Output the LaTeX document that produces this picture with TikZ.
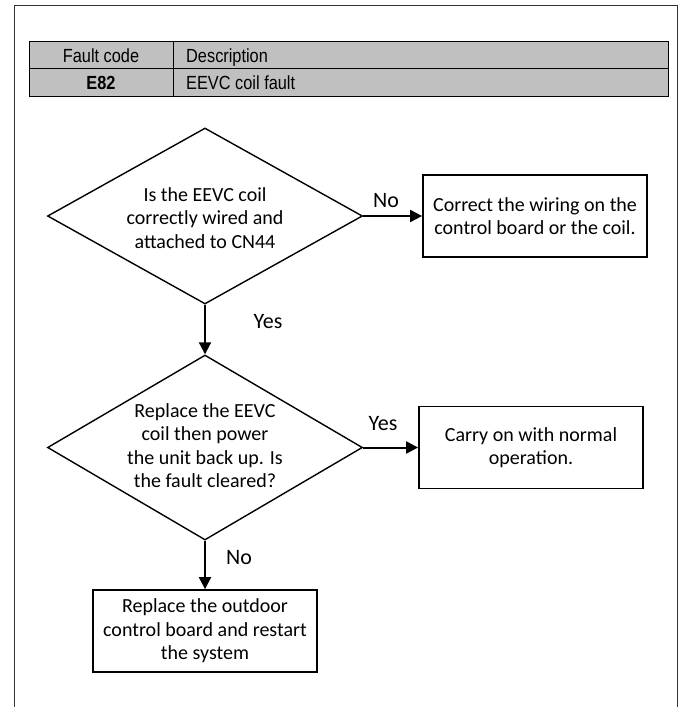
\documentclass[tikz,border=0pt]{standalone}
\usepackage{fontspec}
\setmainfont{Carlito}
\newfontfamily\tabfont[FakeStretch=0.86]{Liberation Sans}
\usetikzlibrary{shapes.geometric,arrows.meta}
\definecolor{tabgray}{RGB}{192,192,192}
\tikzset{
  frameline/.style={draw=black!80,line width=1.5pt},
  cell/.style={draw=black,line width=1pt,fill=tabgray},
  dia/.style={draw=black,line width=1.4pt,diamond,minimum width=315pt,inner sep=0pt},
  dtext/.style={align=center,font=\fontsize{20}{23.4}\selectfont},
  stepbox/.style={draw=black,line width=1.8pt,align=center,font=\fontsize{20}{23.4}\selectfont,inner sep=0pt,minimum width=224pt,minimum height=82pt},
  lbl/.style={font=\fontsize{22}{26}\selectfont},
  conn/.style={line width=2pt,-{Triangle[length=12pt,width=12pt]}},
  tcell/.style={font=\tabfont\fontsize{19}{22}\selectfont,inner sep=0pt}
}
\begin{document}
\begin{tikzpicture}[x=1pt,y=-1pt]
\useasboundingbox (0,0) rectangle (679,707);
% outer frame
\draw[frameline] (14.5,707) -- (14.5,5.5) -- (677.5,5.5) -- (677.5,707);
% table
\draw[cell] (29,41.7) rectangle (668,68.8);
\draw[cell] (29,68.8) rectangle (668,96);
\draw[line width=1pt] (173,41.7) -- (173,96);
\node[tcell,anchor=base] (h1) at (101,62) {Fault code};
\node[tcell,anchor=base west] (h2) at (186,62) {Description};
\node[tcell,anchor=base] (r1) at (101,89.2) {\bfseries E82};
\node[tcell,anchor=base west] (r2) at (186,89.2) {EEVC coil fault};
% flowchart
\node[dia,minimum height=176pt] (d1) at (205,216) {};
\node[dtext] (d1t) at (205,218) {Is the EEVC coil\\correctly wired and\\attached to CN44};
\node[stepbox] (b1) at (535,216) {Correct the wiring on the\\control board or the coil.};
\node[dia,minimum height=185pt] (d2) at (205,447.5) {};
\node[dtext] (d2t) at (205,445.5) {Replace the EEVC\\coil then power\\the unit back up. Is\\the fault cleared?};
\node[stepbox] (b2) at (531,447.5) {Carry on with normal\\operation.};
\node[stepbox] (b3) at (205,631) {Replace the outdoor\\control board and restart\\the system};
% connectors
\draw[conn] (d1.east) -- (b1.west);
\draw[conn] (d1.south) -- (d2.north);
\draw[conn] (d2.east) -- (b2.west);
\draw[conn] (d2.south) -- (b3.north);
% labels
\node[lbl] (lno1) at (386,201) {No};
\node[lbl] (lyes1) at (268,322) {Yes};
\node[lbl] (lyes2) at (383,424) {Yes};
\node[lbl] (lno2) at (239,558) {No};
\end{tikzpicture}
\end{document}
